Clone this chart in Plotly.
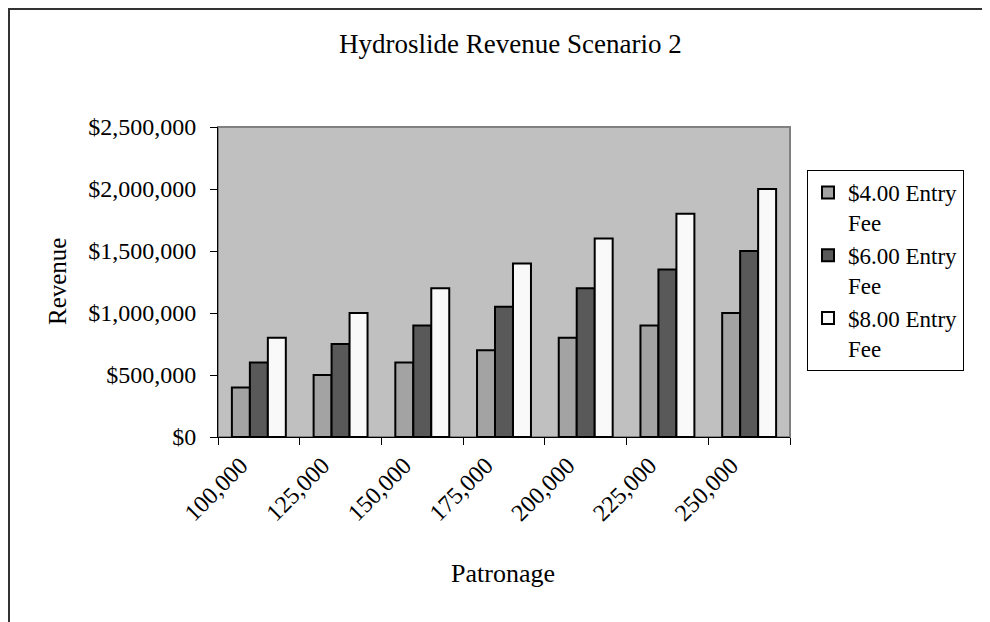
import plotly.graph_objects as go

patronage = ["100,000", "125,000", "150,000", "175,000", "200,000", "225,000", "250,000"]
fee_4 = [400000, 500000, 600000, 700000, 800000, 900000, 1000000]
fee_6 = [600000, 750000, 900000, 1050000, 1200000, 1350000, 1500000]
fee_8 = [800000, 1000000, 1200000, 1400000, 1600000, 1800000, 2000000]
series_names = ["$4.00 Entry<br>Fee", "$6.00 Entry<br>Fee", "$8.00 Entry<br>Fee"]
y_ticks = [0, 500000, 1000000, 1500000, 2000000, 2500000]

FONT = "Liberation Serif, Times New Roman, serif"
colors = ["#a3a3a3", "#595959", "#f9f9f9"]

# the page body has an 8px margin, so everything is placed in page pixels minus 8
OFF = 8
W, H = 990 - OFF, 622 - OFF
L, R, T, B = 218, 790, 127, 437
pw, ph = R - L, B - T


def px(x):
    return (x - L) / pw


def py(y):
    return (B - y) / ph


fig = go.Figure()
for name, vals, col in zip(series_names, [fee_4, fee_6, fee_8], colors):
    fig.add_trace(go.Bar(
        name=name,
        x=patronage,
        y=vals,
        marker=dict(color=col, line=dict(color="black", width=2)),
    ))

fig.update_layout(
    width=W, height=H,
    margin=dict(l=L - OFF, r=990 - R, t=T - OFF, b=622 - B, pad=0),
    paper_bgcolor="white",
    plot_bgcolor="#c0c0c0",
    barmode="group",
    bargap=0.34,
    bargroupgap=0,
    font=dict(family=FONT, size=24, color="black"),
    showlegend=True,
    legend=dict(
        x=px(807), y=py(170), xanchor="left", yanchor="top",
        bgcolor="white", bordercolor="black", borderwidth=1,
        font=dict(family=FONT, size=23),
        tracegroupgap=0, itemwidth=30, valign="top",
    ),
    xaxis=dict(
        showline=True, linecolor="black", linewidth=1,
        ticks="outside", tickson="boundaries", ticklen=7, tickcolor="black",
        tickangle=-45, showgrid=False,
        tickfont=dict(size=24),
        ticklabelshift=-18, ticklabelstandoff=4,
    ),
    yaxis=dict(
        range=[0, 2500000], tickvals=y_ticks,
        tickformat="$,.0f",
        showline=True, linecolor="black", linewidth=1,
        ticks="outside", ticklen=7, tickcolor="black",
        showgrid=False, zeroline=False,
        tickfont=dict(size=24),
        ticklabelstandoff=9,
    ),
    annotations=[
        dict(text="Hydroslide Revenue Scenario 2",
             x=px(511), y=py(44), xref="paper", yref="paper",
             xanchor="center", yanchor="middle",
             showarrow=False, font=dict(family=FONT, size=27)),
        dict(text="Patronage",
             x=px(503), y=py(573), xref="paper", yref="paper",
             xanchor="center", yanchor="middle",
             showarrow=False, font=dict(family=FONT, size=26)),
        dict(text="Revenue", textangle=-90,
             x=px(57), y=py(282), xref="paper", yref="paper",
             xanchor="center", yanchor="middle",
             showarrow=False, font=dict(family=FONT, size=25)),
    ],
    shapes=[
        dict(type="rect", xref="paper", yref="paper",
             x0=0, x1=1, y0=0, y1=1, line=dict(color="#808080", width=2),
             layer="below"),
        dict(type="line", xref="paper", yref="paper",
             x0=px(8), x1=px(990), y0=py(9), y1=py(9),
             line=dict(color="#333333", width=2)),
        dict(type="line", xref="paper", yref="paper",
             x0=px(9), x1=px(9), y0=py(8), y1=py(622),
             line=dict(color="#333333", width=2)),
    ],
)

fig.write_html("out.html")
